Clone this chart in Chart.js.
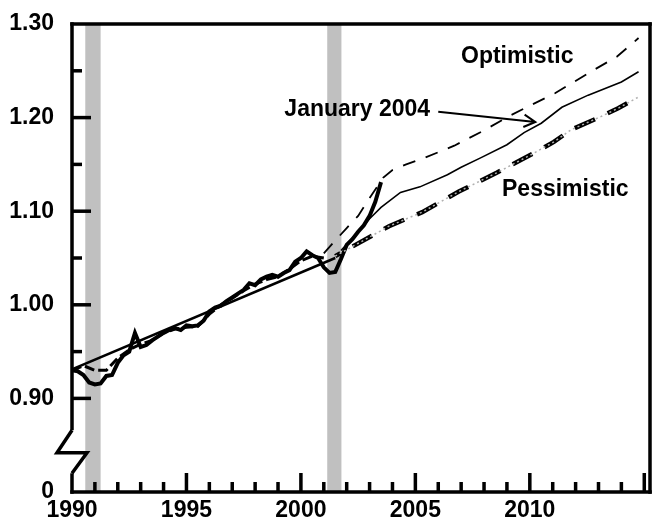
<!DOCTYPE html>
<html><head><meta charset="utf-8">
<script src="https://cdn.jsdelivr.net/npm/chart.js@4/dist/chart.umd.min.js"></script>
<style>html,body{margin:0;padding:0;background:#fff;}canvas{display:block;}</style>
</head><body>
<canvas id="c" width="655" height="521"></canvas>
<script>
// ---- data ----
const actualYears = [1990,1990.25,1990.5,1990.75,1991,1991.25,1991.5,1991.75,1992,1992.25,1992.5,1992.75,1993,1993.25,1993.5,1993.75,1994,1994.25,1994.5,1994.75,1995,1995.25,1995.5,1995.75,1996,1996.25,1996.5,1996.75,1997,1997.25,1997.5,1997.75,1998,1998.25,1998.5,1998.75,1999,1999.25,1999.5,1999.75,2000,2000.25,2000.5,2000.75,2001,2001.25,2001.5,2001.75,2002,2002.25,2002.5,2002.75,2003,2003.25,2003.5];
const actualValues = [0.930,0.929,0.925,0.917,0.915,0.916,0.924,0.925,0.938,0.946,0.950,0.970,0.955,0.957,0.962,0.966,0.970,0.973,0.975,0.973,0.978,0.977,0.978,0.983,0.993,0.997,0.999,1.004,1.008,1.012,1.016,1.023,1.021,1.027,1.030,1.032,1.030,1.034,1.037,1.046,1.050,1.057,1.053,1.050,1.040,1.034,1.035,1.049,1.064,1.070,1.078,1.085,1.095,1.110,1.131];

const historyYears = [1990,1990.5,1991,1991.5,1992,1992.5,1993,1993.5,1994,1994.5,1995,1995.5,1996,1996.5,1997,1997.5,1998,1998.5,1999,1999.5,2000,2000.5,2001];
const historyValues = [0.930,0.935,0.930,0.930,0.943,0.952,0.958,0.962,0.970,0.974,0.976,0.977,0.990,1.000,1.007,1.015,1.022,1.027,1.030,1.038,1.047,1.052,1.050];

const trendYears = [1990, 2001.5];
const trendValues = [0.931, 1.050];

const jan2004Years = [2001.75,2002.5,2003,2003.5,2004.35,2005.2,2006.4,2007,2007.85,2009,2009.75,2010.5,2011.4,2012.55,2014,2014.75];
const jan2004Values = [1.058,1.078,1.092,1.104,1.120,1.126,1.139,1.147,1.157,1.171,1.184,1.194,1.211,1.224,1.238,1.249];

const optimisticYears = [2001,2001.4,2002,2002.5,2003,2003.6,2004,2004.6,2005.3,2006.7,2008.05,2009.05,2010.1,2011.1,2012.8,2013.8,2014.75];
const optimisticValues = [1.055,1.066,1.082,1.095,1.114,1.136,1.144,1.150,1.156,1.170,1.187,1.201,1.214,1.226,1.251,1.265,1.285];

const pessimisticYears = [2001.5,2003.85,2005.3,2006.9,2008.55,2010.1,2011.05,2011.8,2013.1,2013.86,2014.75];
const pessimisticValues = [1.052,1.084,1.099,1.121,1.141,1.161,1.174,1.187,1.201,1.210,1.222];

const recessions = [[1990.58, 1991.25], [2001.15, 2001.77]];

const xTickLabels = ['1990','1995','2000','2005','2010'];
const yTickLabels = ['0','0.90','1.00','1.10','1.20','1.30'];

const annotations = [
  {text:'Optimistic', x:2009.45, y:1.2647},
  {text:'January 2004', x:2002.46, y:1.209},
  {text:'Pessimistic', x:2011.55, y:1.1227}
];
const arrowTail = {x:2006.0, y:1.2063};
const arrowTip = {x:2010.24, y:1.1953};

// ---- helpers ----
const pts = (xs, ys) => xs.map((x, i) => ({x, y: ys[i]}));
const FAMILY = '"Liberation Sans", Arial, sans-serif';
const LW = 3.5;

const deco = {
  id: 'deco',
  beforeDatasetsDraw(chart) {
    const {ctx, chartArea: a, scales: {x}} = chart;
    ctx.save();
    ctx.fillStyle = '#c0c0c0';
    recessions.forEach(([s, e]) => {
      const x0 = x.getPixelForValue(s), x1 = x.getPixelForValue(e);
      ctx.fillRect(x0, a.top, x1 - x0, a.bottom - a.top);
    });
    ctx.restore();
  },
  afterDraw(chart) {
    const {ctx, chartArea: a, scales: {x, y}} = chart;
    ctx.save();
    ctx.fillStyle = 'black';
    ctx.strokeStyle = 'black';
    const L = a.left, R = a.right, T = a.top, B = a.bottom;
    const h = LW / 2;
    ctx.fillRect(L - h, T - h, R - L + LW, LW);
    ctx.fillRect(R - h, T - h, LW, B - T + LW);
    ctx.fillRect(L - h, B - h, R - L + LW, LW);
    const bTop = y.getPixelForValue(0.866), bMid = y.getPixelForValue(0.842), bBot = y.getPixelForValue(0.820);
    ctx.fillRect(L - h, T - h, LW, bTop - T + h);
    ctx.fillRect(L - h, bBot, LW, B - bBot + h);
    ctx.lineWidth = LW;
    ctx.lineJoin = 'miter';
    ctx.lineCap = 'butt';
    ctx.setLineDash([]);
    ctx.beginPath();
    ctx.moveTo(L, bTop);
    ctx.lineTo(L - 15, bMid);
    ctx.lineTo(L + 15, bMid);
    ctx.lineTo(L, bBot);
    ctx.stroke();
    [0.9, 1.0, 1.1, 1.2].forEach(v => { const p = y.getPixelForValue(v); ctx.fillRect(L, p - h, 19, LW); });
    [0.95, 1.05, 1.15, 1.25].forEach(v => { const p = y.getPixelForValue(v); ctx.fillRect(L, p - h, 10, LW); });
    for (let yr = 1991; yr <= 2015; yr++) {
      const p = x.getPixelForValue(yr);
      const len = (yr % 5 === 0) ? 19 : 10;
      ctx.fillRect(p - h, B - len, LW, len);
    }
    const tx = x.getPixelForValue(arrowTail.x), ty = y.getPixelForValue(arrowTail.y);
    const hx = x.getPixelForValue(arrowTip.x), hy = y.getPixelForValue(arrowTip.y);
    ctx.lineWidth = 2;
    ctx.beginPath();
    ctx.moveTo(tx, ty); ctx.lineTo(hx, hy);
    const ang = Math.atan2(hy - ty, hx - tx);
    const hl = 13, spread = 0.5;
    ctx.moveTo(hx - hl * Math.cos(ang - spread), hy - hl * Math.sin(ang - spread));
    ctx.lineTo(hx, hy);
    ctx.lineTo(hx - hl * Math.cos(ang + spread), hy - hl * Math.sin(ang + spread));
    ctx.stroke();
    ctx.font = 'bold 23px ' + FAMILY;
    ctx.textAlign = 'center';
    ctx.textBaseline = 'middle';
    annotations.forEach(t => ctx.fillText(t.text, x.getPixelForValue(t.x), y.getPixelForValue(t.y)));
    ctx.restore();
  }
};

new Chart(document.getElementById('c'), {
  type: 'line',
  data: {
    datasets: [
      {label: 'Pessimistic underlay', data: pts(pessimisticYears, pessimisticValues), borderColor: '#b0b0b0', borderWidth: 1.5, borderDash: [2, 3]},
      {label: 'Pessimistic', data: pts(pessimisticYears, pessimisticValues), borderColor: '#000', borderWidth: 4.5, borderDash: [22, 14], borderDashOffset: 16},
      {label: 'Optimistic', data: pts(optimisticYears, optimisticValues), borderColor: '#000', borderWidth: 1.8, borderDash: [13, 11]},
      {label: 'January 2004', data: pts(jan2004Years, jan2004Values), borderColor: '#000', borderWidth: 1.6},
      {label: 'Trend', data: pts(trendYears, trendValues), borderColor: '#000', borderWidth: 2.5},
      {label: 'History', data: pts(historyYears, historyValues), borderColor: '#000', borderWidth: 3, borderDash: [10, 4]},
      {label: 'Actual', data: pts(actualYears, actualValues), borderColor: '#000', borderWidth: 4}
    ]
  },
  options: {
    responsive: false,
    animation: false,
    devicePixelRatio: 1,
    layout: {padding: {top: 24, right: 5}},
    elements: {point: {radius: 0}, line: {tension: 0}},
    plugins: {legend: {display: false}, tooltip: {enabled: false}},
    scales: {
      x: {
        type: 'linear', min: 1990, max: 2015.25,
        grid: {display: false}, border: {display: false},
        afterFit: s => { s.height = 29; },
        ticks: {
          stepSize: 5, includeBounds: false, autoSkip: false, maxRotation: 0, padding: -3,
          color: '#000', font: {family: FAMILY, size: 23, weight: 'bold'},
          callback: v => { const i = Math.round((v - 1990) / 5); return (i >= 0 && i < xTickLabels.length) ? xTickLabels[i] : ''; }
        }
      },
      y: {
        type: 'linear', min: 0.8, max: 1.3,
        grid: {display: false}, border: {display: false},
        afterFit: s => { s.width = 72; },
        ticks: {
          stepSize: 0.1, padding: 10, color: '#000',
          font: {family: FAMILY, size: 23, weight: 'bold'},
          callback: v => { const i = Math.round((v - 0.8) / 0.1); return (i >= 0 && i < yTickLabels.length) ? yTickLabels[i] : ''; }
        }
      }
    }
  },
  plugins: [deco]
});
</script>
</body></html>
